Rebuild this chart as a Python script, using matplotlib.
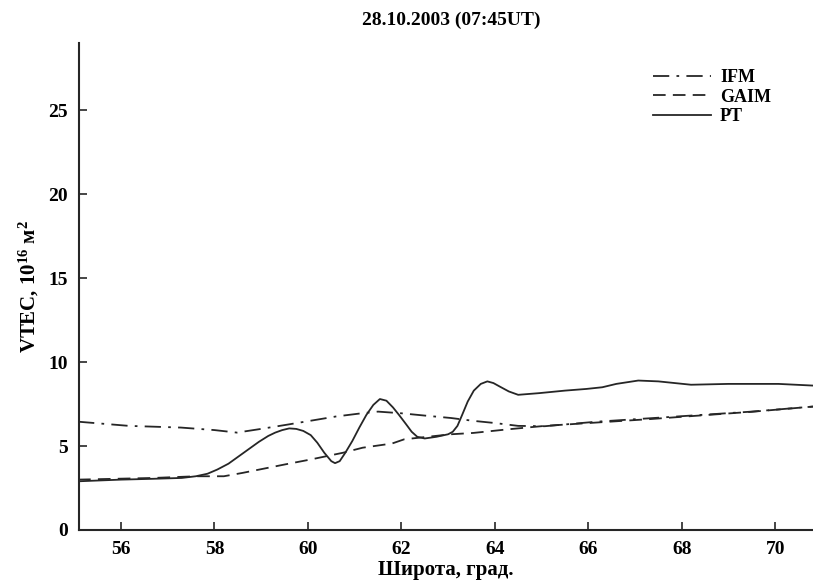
import numpy as np
import matplotlib
matplotlib.use("Agg")
import matplotlib.pyplot as plt

plt.rcParams['font.family'] = ['Liberation Serif', 'DejaVu Serif']
plt.rcParams['font.weight'] = 'bold'
plt.rcParams['mathtext.fontset'] = 'custom'
plt.rcParams['mathtext.rm'] = 'Liberation Serif:bold'
plt.rcParams['mathtext.bf'] = 'Liberation Serif:bold'
plt.rcParams['mathtext.it'] = 'Liberation Serif:bold'
plt.rcParams['mathtext.default'] = 'bf'

# PT (сплошная)
lat_pt = [55.08, 56.0, 56.7, 57.3, 57.6, 57.85, 58.06, 58.3, 58.5, 58.75, 58.95, 59.15,
          59.3, 59.45, 59.6, 59.75, 59.9, 60.06, 60.2, 60.35, 60.5, 60.58, 60.68, 60.8,
          60.95, 61.1, 61.25, 61.4, 61.54, 61.68, 61.82, 61.95, 62.1, 62.22, 62.34, 62.5,
          62.75, 63.0, 63.1, 63.2, 63.3, 63.42, 63.55, 63.7, 63.84, 63.97, 64.1, 64.3,
          64.5, 64.95, 65.5, 65.96, 66.3, 66.6, 67.07, 67.5, 68.2, 69.0, 70.07, 70.81]
vtec_pt = [2.9, 3.0, 3.05, 3.1, 3.2, 3.35, 3.6, 3.95, 4.35, 4.85, 5.25, 5.6,
           5.8, 5.95, 6.05, 6.02, 5.9, 5.65, 5.2, 4.6, 4.1, 3.98, 4.1, 4.6,
           5.3, 6.1, 6.85, 7.45, 7.8, 7.7, 7.3, 6.85, 6.3, 5.85, 5.55, 5.45,
           5.55, 5.7, 5.85, 6.2, 6.85, 7.65, 8.3, 8.7, 8.85, 8.75, 8.55, 8.25,
           8.05, 8.15, 8.3, 8.4, 8.5, 8.7, 8.9, 8.85, 8.65, 8.7, 8.7, 8.6]

# GAIM (штриховая)
lat_gaim = [55.08, 56.7, 57.6, 58.2, 58.6, 59.5, 60.06, 60.75, 61.17, 61.8, 62.06, 63.06,
            63.54, 64.3, 65.07, 66.18, 67.3, 68.4, 69.5, 70.81]
vtec_gaim = [3.0, 3.1, 3.2, 3.2, 3.4, 3.9, 4.2, 4.6, 4.9, 5.15, 5.4, 5.7,
             5.78, 6.0, 6.2, 6.4, 6.6, 6.82, 7.04, 7.35]

# IFM (штрихпунктирная)
lat_ifm = [55.08, 56.17, 57.28, 58.0, 58.48, 58.95, 59.55, 60.6, 61.12, 61.5, 62.0, 62.55,
           63.06, 63.54, 64.0, 64.5, 65.07, 66.18, 67.3, 68.4, 69.5, 70.81]
vtec_ifm = [6.45, 6.2, 6.1, 5.95, 5.8, 6.0, 6.27, 6.76, 6.94, 7.05, 6.95, 6.8,
            6.67, 6.5, 6.37, 6.2, 6.18, 6.45, 6.65, 6.85, 7.05, 7.35]

xticks = [56, 58, 60, 62, 64, 66, 68, 70]
yticks = [0, 5, 10, 15, 20, 25]

fig = plt.figure(figsize=(8.13, 5.88), dpi=100)
ax = fig.add_axes([79/813, 58/588, 1 - 79/813, 487/588])

col = '#262626'
ax.plot(lat_ifm, vtec_ifm, color=col, lw=1.3, ls=(0, (9, 4, 1.5, 4)), label='IFM')
ax.plot(lat_gaim, vtec_gaim, color=col, lw=1.3, ls=(0, (7, 4)), label='GAIM')
ax.plot(lat_pt, vtec_pt, color=col, lw=1.3, ls='-', label='PT')

ax.set_xlim(55.1, 70.81)
ax.set_ylim(0, 29)
ax.set_xticks(xticks)
ax.set_yticks(yticks)
ax.tick_params(direction='in', length=6, width=1.2, labelsize=14, pad=8, color=col)
for lab in ax.get_xticklabels() + ax.get_yticklabels():
    lab.set_fontweight('bold')

for s in ['top', 'right']:
    ax.spines[s].set_visible(False)
for s in ['left', 'bottom']:
    ax.spines[s].set_linewidth(1.5)
    ax.spines[s].set_color(col)

ax.set_xlabel('Широта, град.', fontsize=15, fontweight='bold', labelpad=1)
ax.set_ylabel('VTEC, 10$^{16}$ м$^2$', fontsize=15, fontweight='bold', labelpad=5)
fig.text(0.555, 0.965, '28.10.2003 (07:45UT)', ha='center', va='center',
         fontsize=14, fontweight='bold')

leg = ax.legend(loc='upper right', bbox_to_anchor=(0.965, 0.98), frameon=False,
                handlelength=3.2, handletextpad=0.5, labelspacing=0.15,
                prop={'weight': 'bold', 'size': 13})

fig.savefig('out.png', dpi=100)
